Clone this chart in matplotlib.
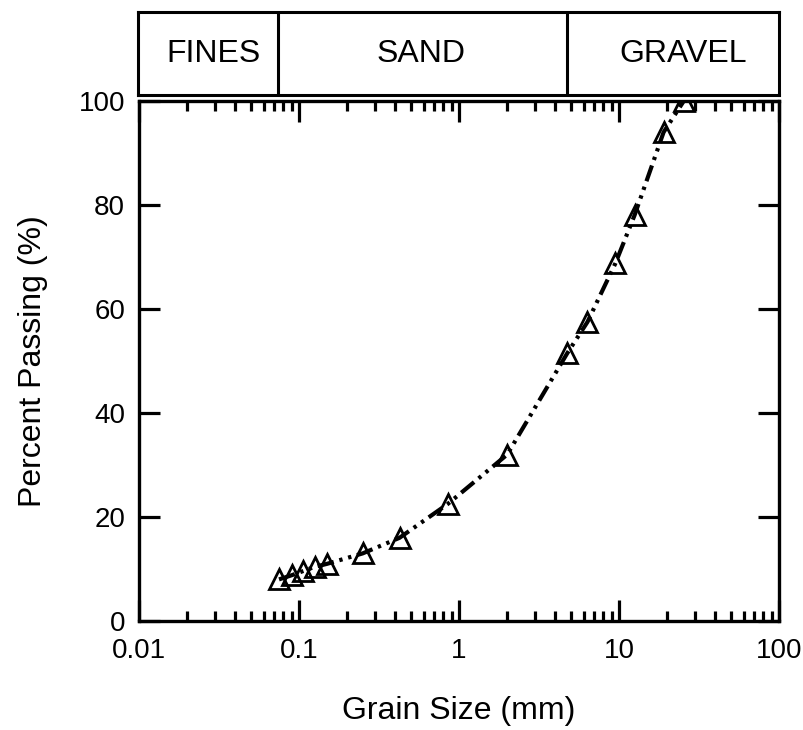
import matplotlib.pyplot as plt
import numpy as np
from matplotlib.ticker import LogLocator, FixedLocator, NullFormatter, FuncFormatter

plt.rcParams["font.family"] = ["Liberation Sans", "DejaVu Sans"]

# sieve data
grain_mm = [0.075, 0.09, 0.106, 0.125, 0.15, 0.25, 0.425, 0.85, 2.0,
            4.75, 6.35, 9.5, 12.5, 19.0, 25.4]
passing = [8.0, 8.8, 9.6, 10.4, 11.0, 13.0, 16.0, 22.5, 32.0,
           51.5, 57.5, 68.8, 78.0, 94.0, 100.0]

# soil class bands
class_names = ["FINES", "SAND", "GRAVEL"]
class_bounds = [0.075, 4.75]
class_label_x = [0.0298, 0.58, 25.2]

xlim = (0.01, 100)
ylim = (0, 100)
yticks = [0, 20, 40, 60, 80, 100]

fig = plt.figure(figsize=(8.04, 7.3), dpi=100)

ax = fig.add_axes([139 / 804, 109 / 730, 640 / 804, 520 / 730])
ax.plot(grain_mm, passing, color="black", lw=3.0,
        linestyle=(0, (4.0, 1.4, 0.8, 1.4, 0.8, 1.4)), dash_capstyle="butt",
        marker="^", ms=14, mfc="none", mec="black", mew=2.0, zorder=3)

ax.set_xscale("log")
ax.set_xlim(*xlim)
ax.set_ylim(*ylim)
ax.set_yticks(yticks)
ax.xaxis.set_major_locator(LogLocator(base=10, numticks=10))
ax.xaxis.set_minor_locator(LogLocator(base=10, subs=np.arange(2, 10), numticks=10))
ax.xaxis.set_minor_formatter(NullFormatter())
ax.xaxis.set_major_formatter(FuncFormatter(lambda v, p: f"{v:g}"))
ax.tick_params(which="both", direction="in", top=True, right=True,
               labelsize=20, width=2.3, pad=10)
ax.tick_params(axis="x", pad=12)
ax.tick_params(which="major", length=15)
ax.tick_params(which="minor", length=7.5)
for s in ax.spines.values():
    s.set_linewidth(2.4)

ax.set_xlabel("Grain Size (mm)", fontsize=23, labelpad=23)
ax.set_ylabel("Percent Passing (%)", fontsize=23, labelpad=22)

# classification strip above the chart
top = fig.add_axes([138 / 804, 635 / 730, 641 / 804, 83 / 730])
top.set_xscale("log")
top.set_xlim(*xlim)
top.set_ylim(0, 1)
top.set_xticks([])
top.set_yticks([])
top.xaxis.set_minor_locator(FixedLocator([]))
for s in top.spines.values():
    s.set_linewidth(2.2)
for b in class_bounds:
    top.axvline(b, color="black", lw=2.2)
for name, x in zip(class_names, class_label_x):
    top.text(x, 0.5, name, ha="center", va="center", fontsize=23)

fig.savefig("out.png", dpi=100)
